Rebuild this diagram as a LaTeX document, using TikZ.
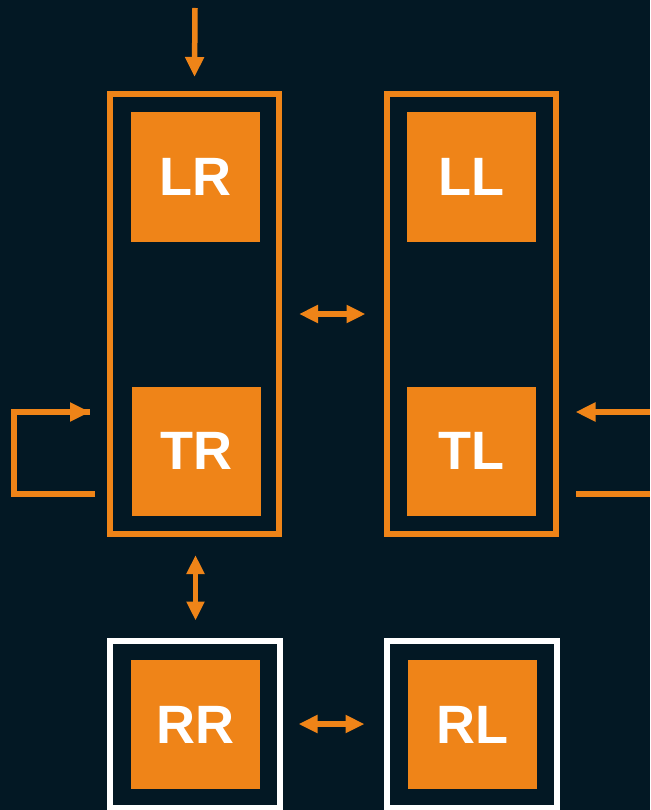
\documentclass[tikz,border=0pt]{standalone}
\usepackage{fontspec}
\setmainfont{Liberation Sans}
\usetikzlibrary{arrows.meta}
\definecolor{bg}{HTML}{031824}
\definecolor{org}{HTML}{EF8418}
\tikzset{
  sq/.style={fill=org, draw=none, minimum size=129pt, inner sep=0pt, text=white, font=\fontsize{54}{54}\selectfont\bfseries},
  obox/.style={draw=org, line width=6pt, minimum width=169pt, minimum height=440pt, inner sep=0pt},
  wbox/.style={draw=white, line width=6pt, minimum width=170pt, minimum height=167pt, inner sep=0pt},
  arr/.style={draw=org, line width=5.5pt, -{Triangle[length=20pt,width=18pt]}},
  darr/.style={draw=org, line width=5.5pt, {Triangle[length=19pt,width=17pt]}-{Triangle[length=19pt,width=17pt]}},
  ln/.style={draw=org, line width=5.5pt}
}
\begin{document}
\begin{tikzpicture}[x=1pt,y=-1pt]
\fill[bg] (0,0) rectangle (650,810);
\useasboundingbox (0,0) rectangle (650,810);
\node[obox] (Lbox) at (194.5,314) {};
\node[obox] (Rbox) at (471,314) {};
\node[wbox] (RRbox) at (194.5,724) {};
\node[wbox] (RLbox) at (471.5,724) {};
\node[sq] (LR) at (195.5,177) {LR};
\node[sq] (LL) at (471.5,177) {LL};
\node[sq] (TR) at (196,451) {TR};
\node[sq] (TL) at (471.5,451) {TL};
\node[sq] (RR) at (195.5,724.5) {RR};
\node[sq] (RL) at (472,724.5) {RL};
\coordinate (top) at (195,8);
\draw[arr] (top) -- ([yshift=14pt]Lbox.north);
\draw[darr, shorten >=18pt, shorten <=17pt] (Lbox.east) -- (Rbox.west);
\draw[darr, shorten >=17pt, shorten <=18pt] ([xshift=1pt]Lbox.south) -- ([xshift=1pt]RRbox.north);
\draw[darr, shorten >=19pt, shorten <=16pt] (RRbox.east) -- (RLbox.west);
\coordinate (l1) at (95,494);
\coordinate (l2) at (14,494);
\coordinate (l3) at (14,412);
\draw[ln] (l1) -- (l2) -- (l3) -- ([xshift=-17pt]Lbox.west |- l3);
\draw[arr] (l3) -- ([xshift=-17pt]Lbox.west |- l3);
\coordinate (r1) at (650,412);
\coordinate (r2) at (650,494);
\draw[arr] (r1) -- ([xshift=17pt]Rbox.east |- r1);
\draw[ln] (r2) -- ([xshift=17pt]Rbox.east |- r2);
\end{tikzpicture}
\end{document}
